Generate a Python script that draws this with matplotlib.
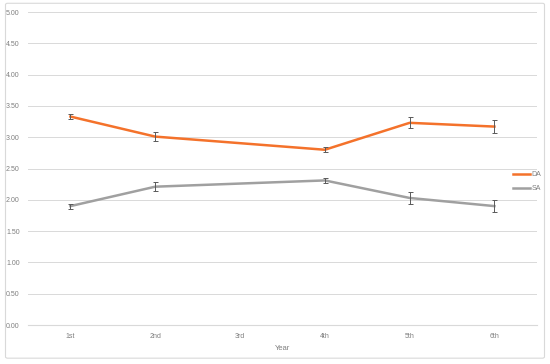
import matplotlib
matplotlib.use("Agg")
import matplotlib.pyplot as plt
from matplotlib.patches import FancyBboxPatch
import numpy as np

years = ["1st", "2nd", "3rd", "4th", "5th", "6th"]
# 3rd year has no data, the line just skips it
da_mean = [3.33, 3.01, np.nan, 2.80, 3.23, 3.17]
da_err = [0.04, 0.07, np.nan, 0.04, 0.09, 0.11]
sa_mean = [1.90, 2.21, np.nan, 2.31, 2.03, 1.90]
sa_err = [0.04, 0.07, np.nan, 0.04, 0.09, 0.10]

txt = "#7f7f7f"
plt.rcParams["font.family"] = ["Liberation Sans", "DejaVu Sans"]

fig = plt.figure(figsize=(5.5, 3.64), dpi=100)
ax = fig.add_axes([0.051, 0.107, 0.925, 0.860])

# outer frame of the chart
fig.patches.append(FancyBboxPatch((0.010, 0.016), 0.980, 0.975,
                                  boxstyle="round,pad=0,rounding_size=0.004",
                                  transform=fig.transFigure, fill=False,
                                  edgecolor="#d9d9d9", linewidth=0.8))

x = np.arange(len(years))
series = [("DA", da_mean, da_err, "#f4722b"), ("SA", sa_mean, sa_err, "#a0a0a0")]
for name, m, e, c in series:
    m = np.array(m)
    e = np.array(e)
    ok = ~np.isnan(m)
    ax.plot(x[ok], m[ok], color=c, linewidth=1.8, label=name, zorder=3)
    ax.errorbar(x[ok], m[ok], yerr=e[ok], fmt="none", ecolor="#595959",
                elinewidth=0.7, capsize=1.8, capthick=0.7, zorder=4)

ax.set_xlim(-0.5, 5.5)
ax.set_ylim(0, 5)
ax.set_yticks(np.arange(0, 5.01, 0.5))
ax.set_yticklabels([f"{v:.2f}" for v in np.arange(0, 5.01, 0.5)])
ax.set_xticks(x)
ax.set_xticklabels(years)
ax.tick_params(length=0, labelsize=5, colors=txt, pad=6)
ax.grid(axis="y", color="#d9d9d9", linewidth=0.7)
ax.set_axisbelow(True)
for s in ["top", "right", "left"]:
    ax.spines[s].set_visible(False)
ax.spines["bottom"].set_color("#d9d9d9")
ax.spines["bottom"].set_linewidth(0.8)
ax.set_xlabel("Year", fontsize=5.5, color=txt, labelpad=3)

ax.legend(loc="center left", bbox_to_anchor=(0.947, 0.458), frameon=False,
          fontsize=5, handlelength=2.4, handletextpad=0.2, labelspacing=1.0,
          borderpad=0, labelcolor=txt)

plt.savefig("out.png", dpi=100)
